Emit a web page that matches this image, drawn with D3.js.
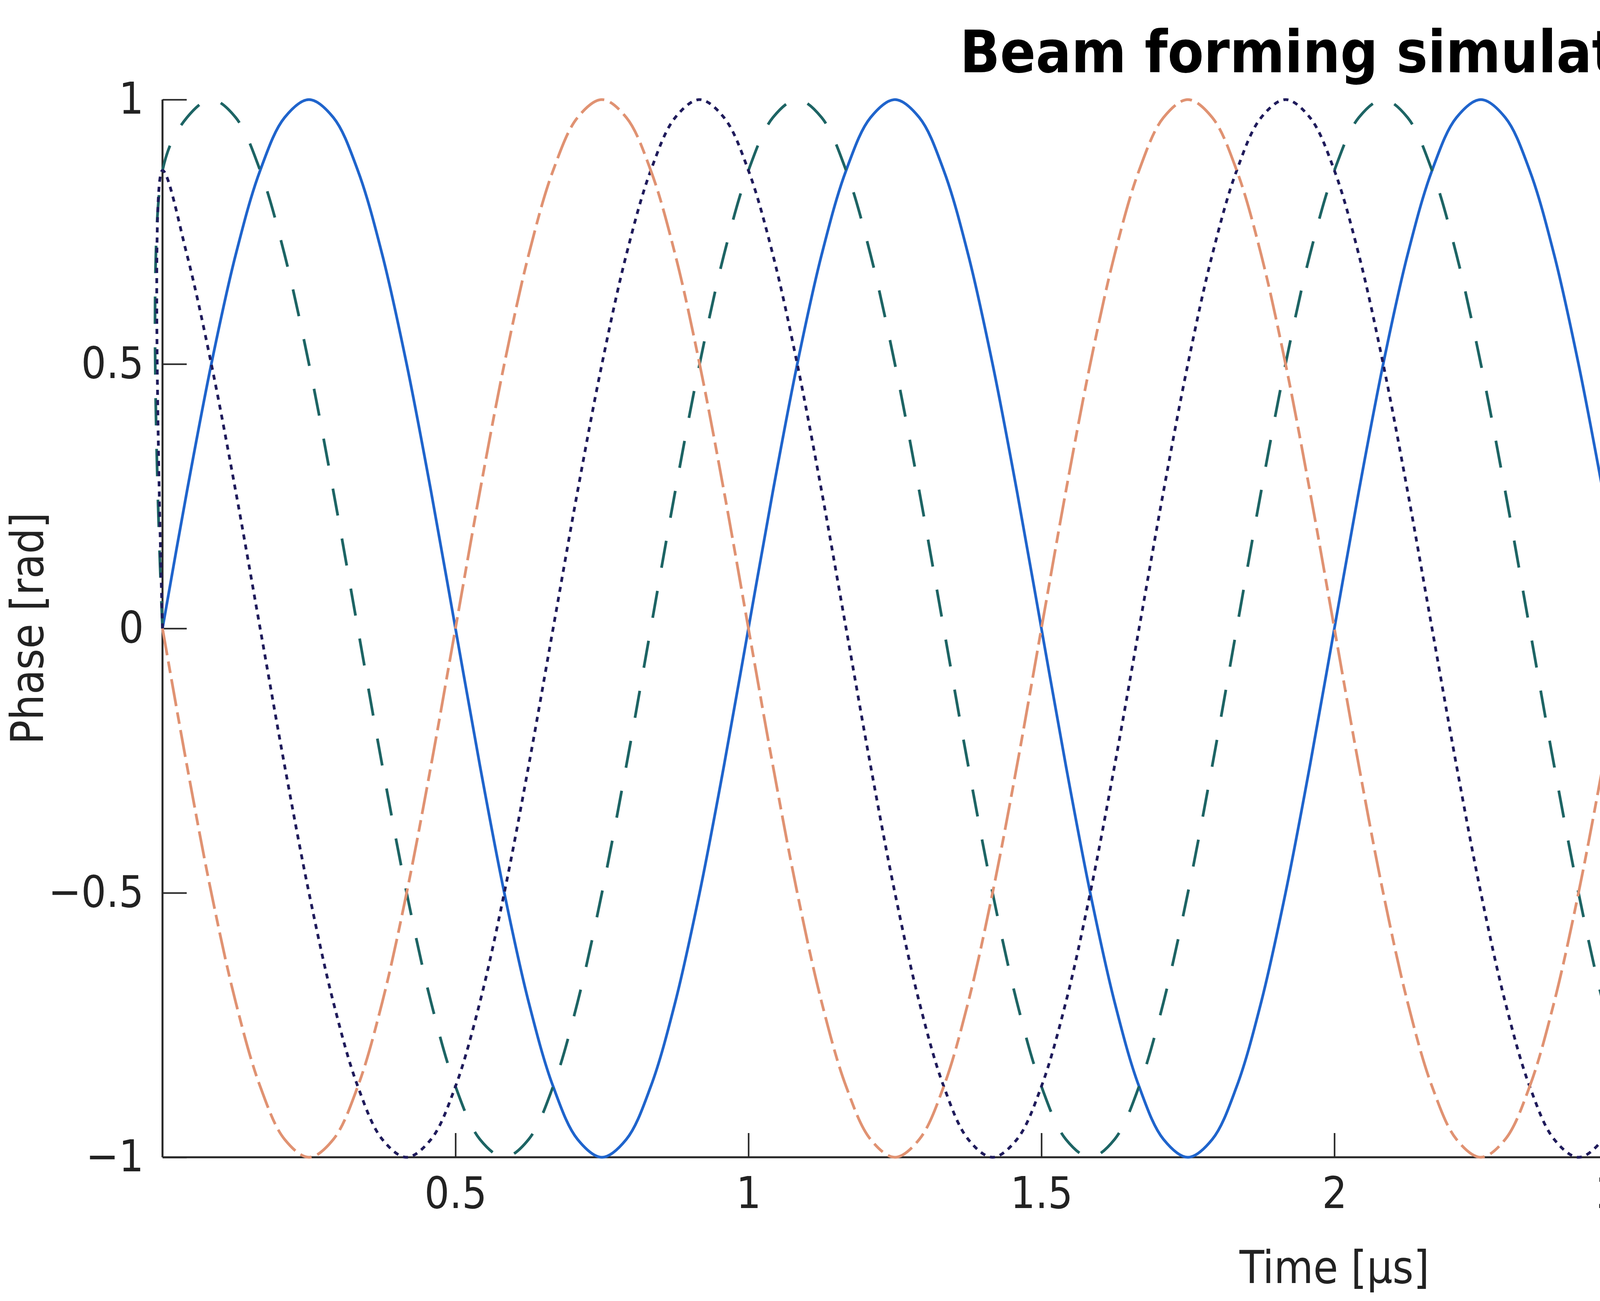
<!DOCTYPE html>
<html>
<head>
<meta charset="utf-8">
<script src="https://cdn.jsdelivr.net/npm/d3@7"></script>
<style>
  body { margin: 0; background: #fff; }
  text { font-family: "DejaVu Sans Condensed", "Liberation Sans Narrow", "Roboto", sans-serif; font-stretch: condensed; fill: #222; }
</style>
</head>
<body>
<svg id="svg" width="6500" height="3331"></svg>
<script>
// ====== Data ======
// sampled every 1/24 µs (0 .. 4 µs)
const timeUs = d3.range(97).map((i) => i / 24);

const seriesA = [
  0, .259, .5, .707, .866, .966, 1, .966, .866, .707, .5, .259, 0, -.259, -.5, -.707, -.866, -.966, -1, -.966, -.866, -.707, -.5, -.259,
  0, .259, .5, .707, .866, .966, 1, .966, .866, .707, .5, .259, 0, -.259, -.5, -.707, -.866, -.966, -1, -.966, -.866, -.707, -.5, -.259,
  0, .259, .5, .707, .866, .966, 1, .966, .866, .707, .5, .259, 0, -.259, -.5, -.707, -.866, -.966, -1, -.966, -.866, -.707, -.5, -.259,
  0, .259, .5, .707, .866, .966, 1, .966, .866, .707, .5, .259, 0, -.259, -.5, -.707, -.866, -.966, -1, -.966, -.866, -.707, -.5, -.259,
  0,
];
const seriesB = [
  .866, .966, 1, .966, .866, .707, .5, .259, 0, -.259, -.5, -.707, -.866, -.966, -1, -.966, -.866, -.707, -.5, -.259, 0, .259, .5, .707,
  .866, .966, 1, .966, .866, .707, .5, .259, 0, -.259, -.5, -.707, -.866, -.966, -1, -.966, -.866, -.707, -.5, -.259, 0, .259, .5, .707,
  .866, .966, 1, .966, .866, .707, .5, .259, 0, -.259, -.5, -.707, -.866, -.966, -1, -.966, -.866, -.707, -.5, -.259, 0, .259, .5, .707,
  .866, .966, 1, .966, .866, .707, .5, .259, 0, -.259, -.5, -.707, -.866, -.966, -1, -.966, -.866, -.707, -.5, -.259, 0, .259, .5, .707,
  .866,
];
const seriesC = [
  .866, .707, .5, .259, 0, -.259, -.5, -.707, -.866, -.966, -1, -.966, -.866, -.707, -.5, -.259, 0, .259, .5, .707, .866, .966, 1, .966,
  .866, .707, .5, .259, 0, -.259, -.5, -.707, -.866, -.966, -1, -.966, -.866, -.707, -.5, -.259, 0, .259, .5, .707, .866, .966, 1, .966,
  .866, .707, .5, .259, 0, -.259, -.5, -.707, -.866, -.966, -1, -.966, -.866, -.707, -.5, -.259, 0, .259, .5, .707, .866, .966, 1, .966,
  .866, .707, .5, .259, 0, -.259, -.5, -.707, -.866, -.966, -1, -.966, -.866, -.707, -.5, -.259, 0, .259, .5, .707, .866, .966, 1, .966,
  .866,
];
const seriesD = [
  0, -.259, -.5, -.707, -.866, -.966, -1, -.966, -.866, -.707, -.5, -.259, 0, .259, .5, .707, .866, .966, 1, .966, .866, .707, .5, .259,
  0, -.259, -.5, -.707, -.866, -.966, -1, -.966, -.866, -.707, -.5, -.259, 0, .259, .5, .707, .866, .966, 1, .966, .866, .707, .5, .259,
  0, -.259, -.5, -.707, -.866, -.966, -1, -.966, -.866, -.707, -.5, -.259, 0, .259, .5, .707, .866, .966, 1, .966, .866, .707, .5, .259,
  0, -.259, -.5, -.707, -.866, -.966, -1, -.966, -.866, -.707, -.5, -.259, 0, .259, .5, .707, .866, .966, 1, .966, .866, .707, .5, .259,
  0,
];
// B and C begin with a sample of 0 at t = 0 before jumping
const startValues = { A: null, B: 0, C: 0, D: null };

const seriesNames = ["A", "B", "C", "D"];
const seriesValues = [seriesA, seriesB, seriesC, seriesD];
const seriesColors = ["#1f64cc", "#1d6464", "#1f1b5b", "#e09272"];
const seriesDash = ["none", "70 60", "13 13", "70 16 30 16"];

const xTicks = [0.5, 1, 1.5, 2, 2.5, 3, 3.5, 4];
const yTicks = [-1, -0.5, 0, 0.5, 1];

// ====== Layout ======
const svg = d3.select("#svg");
const plot = { left: 416, right: 6416, top: 255, bottom: 2963 };
const x = d3.scaleLinear().domain([0, 4]).range([plot.left, plot.right]);
const y = d3.scaleLinear().domain([-1, 1]).range([plot.bottom, plot.top]);

// ====== Axes ======
const xAxis = svg.append("g").attr("transform", `translate(0,${plot.bottom})`)
  .call(d3.axisBottom(x).tickValues(xTicks).tickSize(-62).tickPadding(50).tickFormat(d3.format("")));
const yAxis = svg.append("g").attr("transform", `translate(${plot.left},0)`)
  .call(d3.axisLeft(y).tickValues(yTicks).tickSize(-62).tickPadding(48).tickFormat(d3.format("")));
[xAxis, yAxis].forEach((a) => {
  a.select(".domain").attr("stroke", "#262626").attr("stroke-width", 5);
  a.selectAll(".tick line").attr("stroke", "#262626").attr("stroke-width", 4);
  a.selectAll(".tick text").attr("font-size", 112).style("fill", "#222");
});
xAxis.select(".domain").attr("d", `M${plot.left},0H${plot.right}`);
yAxis.select(".domain").attr("d", `M0,${plot.bottom}V${plot.top}`);

// ====== Lines ======
const line = d3.line().x((d) => x(d[0])).y((d) => y(d[1])).curve(d3.curveCatmullRom.alpha(0.5));
seriesNames.forEach((name, i) => {
  let pts = timeUs.map((t, k) => [t, seriesValues[i][k]]);
  if (startValues[name] !== null) pts = [[0, startValues[name]], ...pts];
  svg.append("path").attr("d", line(pts)).attr("fill", "none")
    .attr("stroke", seriesColors[i]).attr("stroke-width", 7)
    .attr("stroke-dasharray", seriesDash[i]);
});

// ====== Legend ======
const lg = svg.append("g");
lg.append("rect").attr("x", 5991).attr("y", 330).attr("width", 374).attr("height", 607)
  .attr("fill", "#fff").attr("stroke", "#2a2a2a").attr("stroke-width", 5);
seriesNames.forEach((name, i) => {
  const ly = 413 + i * 146.7;
  lg.append("line").attr("x1", 6016).attr("x2", 6265).attr("y1", ly).attr("y2", ly)
    .attr("stroke", seriesColors[i]).attr("stroke-width", 7).attr("stroke-dasharray", seriesDash[i]);
  lg.append("text").attr("x", 6285).attr("y", ly + 35).attr("font-size", 98).style("fill", "#000").text(name);
});

// ====== Titles ======
const midX = (plot.left + plot.right) / 2;
svg.append("text").attr("x", midX).attr("y", 185).attr("text-anchor", "middle")
  .attr("font-size", 150).attr("font-weight", "bold").style("fill", "#000").text("Beam forming simulation");
svg.append("text").attr("x", midX).attr("y", 3285).attr("text-anchor", "middle")
  .attr("font-size", 115).text("Time [µs]");
svg.append("text").attr("transform", `translate(110,${(plot.top + plot.bottom) / 2}) rotate(-90)`)
  .attr("text-anchor", "middle").attr("font-size", 115).text("Phase [rad]");
</script>
</body>
</html>
